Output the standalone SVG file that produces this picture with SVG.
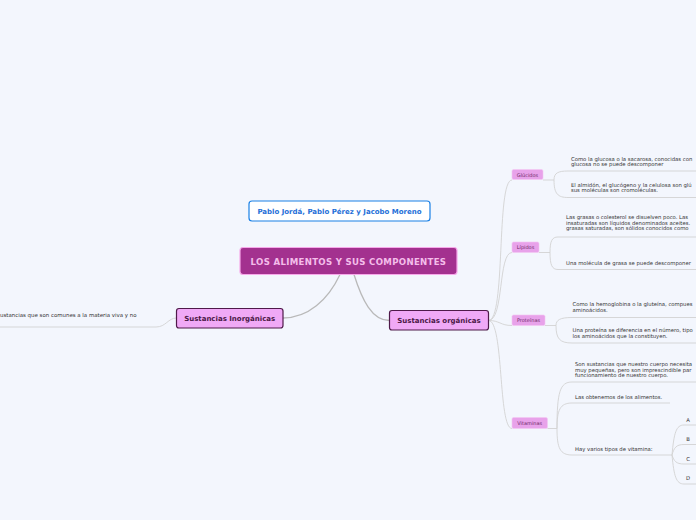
<svg xmlns="http://www.w3.org/2000/svg" width="696" height="520" viewBox="0 0 696 520">
<defs>
<style>
.bg{fill:#f3f6fd}
.c{fill:none;stroke:#b9b9b9;stroke-width:1.3}
.t{fill:none;stroke:#d2d2d2;stroke-width:0.9}
.s{font-family:"DejaVu Sans","Liberation Sans",sans-serif;font-size:5.3px;fill:#333}
.leaf{fill:#e8a2ea;stroke:#f3c8f3;stroke-width:0.6}
.lt{font-family:"DejaVu Sans","Liberation Sans",sans-serif;font-size:5px;fill:#6c2a68;text-anchor:middle}
.sub{fill:#f0a9f6;stroke:#4f1a4a;stroke-width:1.2}
.subt{font-family:"DejaVu Sans","Liberation Sans",sans-serif;font-size:7px;font-weight:bold;fill:#4a1846;text-anchor:middle}
</style>
</defs>
<rect class="bg" x="0" y="0" width="696" height="520"/>
<g id="connectors">
<path class="c" d="M340,274.5 C328,300 308,318 283,318"/>
<path class="c" d="M354,274.5 C362,300 372,320.5 389.5,320.5"/>
<path class="t" d="M176.5,318 C168,318 166,327 156,327 L0,327"/>
<path class="t" d="M488.5,320.5 C506,320.5 496,180 512,180"/>
<path class="t" d="M488.5,320.5 C504,320.5 498,252.5 512,252.5"/>
<path class="t" d="M488.5,320.5 C500,320.5 500,325.5 512,325.5"/>
<path class="t" d="M488.5,320.5 C504,320.5 498,428.5 512,428.5"/>
<path class="t" d="M543,180 L554,180 M554,180 C554,173 558,171 568,171 L696,171 M554,180 C554,194 558,197.5 568,197.5 L696,197.5"/>
<path class="t" d="M539,252.5 L550,252.5 M550,252.5 C550,241 552,237 558,237 L696,237 M550,252.5 C550,265 552,269.5 558,269.5 L696,269.5"/>
<path class="t" d="M545,325.5 L556,325.5 M556,325.5 C556,320 560,317.5 572,317.5 L696,317.5 M556,325.5 C556,339 560,343 572,343 L696,343"/>
<path class="t" d="M547.5,428.5 L557,428.5 M557,428.5 C557,392 560,382 572,382 L696,382 M557,428.5 C557,410 560,403 572,403 L670,403 M557,428.5 C557,448 560,455 572,455 L672,455"/>
<path class="t" d="M672,455 C674,433 676,425 684,425 L696,425 M672,455 C674,448 676,444.5 684,444.5 L696,444.5 M672,455 C674,461 676,464 684,464 L696,464 M672,455 C674,476 676,484 684,484 L696,484"/>
</g>
<g id="central">
<rect x="240" y="247.5" width="217" height="27" rx="3" fill="#a3318f" stroke="#f7a8ea" stroke-width="1.2"/>
<text x="348.5" y="264.8" text-anchor="middle" font-family="DejaVu Sans, Liberation Sans, sans-serif" font-size="8.6" font-weight="bold" fill="#f4bdea" letter-spacing="0.3">LOS ALIMENTOS Y SUS COMPONENTES</text>
</g>
<g id="authors">
<rect x="249" y="201" width="181" height="20" rx="3" fill="#ffffff" stroke="#1a80e6" stroke-width="1.2"/>
<text x="339.5" y="213.6" text-anchor="middle" font-family="DejaVu Sans, Liberation Sans, sans-serif" font-size="7" font-weight="bold" fill="#1f6fd8">Pablo Jordá, Pablo Pérez y Jacobo Moreno</text>
</g>
<g id="inorganicas">
<rect class="sub" x="176.5" y="308.5" width="106.5" height="19.5" rx="2.5"/>
<text class="subt" x="229.7" y="320.6">Sustancias Inorgánicas</text>
</g>
<g id="inorg-1">
<text class="s" x="0" y="316.8" style="font-size:5.45px">ustancias que son comunes a la materia viva y no</text>
</g>
<g id="organicas">
<rect class="sub" x="389.5" y="310.5" width="99" height="19.5" rx="2.5"/>
<text class="subt" x="439" y="322.8">Sustancias orgánicas</text>
</g>
<g id="glucidos">
<rect class="leaf" x="512" y="169.5" width="31" height="10" rx="1.5"/>
<text class="lt" x="527.5" y="176.5">Glúcidos</text>
</g>
<g id="glucidos-1">
<text class="s" x="571" y="160.8">Como la glucosa o la sacarosa, conocidas con</text>
<text class="s" x="571" y="166.3">glucosa no se puede descomponer</text>
</g>
<g id="glucidos-2">
<text class="s" x="571" y="186.8">El almidón, el glucógeno y la celulosa son glú</text>
<text class="s" x="571" y="192.3">sus moléculas son cromoléculas.</text>
</g>
<g id="lipidos">
<rect class="leaf" x="512" y="242" width="27" height="10.5" rx="1.5"/>
<text class="lt" x="525.5" y="249.2">Lípidos</text>
</g>
<g id="lipidos-1">
<text class="s" x="566" y="219.3">Las grasas o colesterol se disuelven poco. Las</text>
<text class="s" x="566" y="224.8">insaturadas son líquidos denominados aceites.</text>
<text class="s" x="566" y="230.3">grasas saturadas, son sólidos conocidos como</text>
</g>
<g id="lipidos-2">
<text class="s" x="566" y="265.3">Una molécula de grasa se puede descomponer</text>
</g>
<g id="proteinas">
<rect class="leaf" x="512" y="315" width="33" height="10.5" rx="1.5"/>
<text class="lt" x="528.5" y="322.2">Proteínas</text>
</g>
<g id="proteinas-1">
<text class="s" x="572.5" y="306.3">Como la hemoglobina o la gluteína, compues</text>
<text class="s" x="572.5" y="311.8">aminoácidos.</text>
</g>
<g id="proteinas-2">
<text class="s" x="572.5" y="332.3">Una proteína se diferencia en el número, tipo</text>
<text class="s" x="572.5" y="337.8">los aminoácidos que la constituyen.</text>
</g>
<g id="vitaminas">
<rect class="leaf" x="512" y="417.5" width="35.5" height="11" rx="1.5"/>
<text class="lt" x="529.7" y="424.9">Vitaminas</text>
</g>
<g id="vitaminas-1">
<text class="s" x="575" y="366">Son sustancias que nuestro cuerpo necesita</text>
<text class="s" x="575" y="371.5">muy pequeñas, pero son imprescindible par</text>
<text class="s" x="575" y="377">funcionamiento de nuestro cuerpo.</text>
</g>
<g id="vitaminas-2">
<text class="s" x="575" y="399">Las obtenemos de los alimentos.</text>
</g>
<g id="vitaminas-3">
<text class="s" x="575" y="450.8">Hay varios tipos de vitamina:</text>
</g>
<g id="vit-a"><text class="s" x="688" y="421.8" text-anchor="middle">A</text></g>
<g id="vit-b"><text class="s" x="688" y="441" text-anchor="middle">B</text></g>
<g id="vit-c"><text class="s" x="688" y="460.8" text-anchor="middle">C</text></g>
<g id="vit-d"><text class="s" x="688" y="480" text-anchor="middle">D</text></g>
</svg>
